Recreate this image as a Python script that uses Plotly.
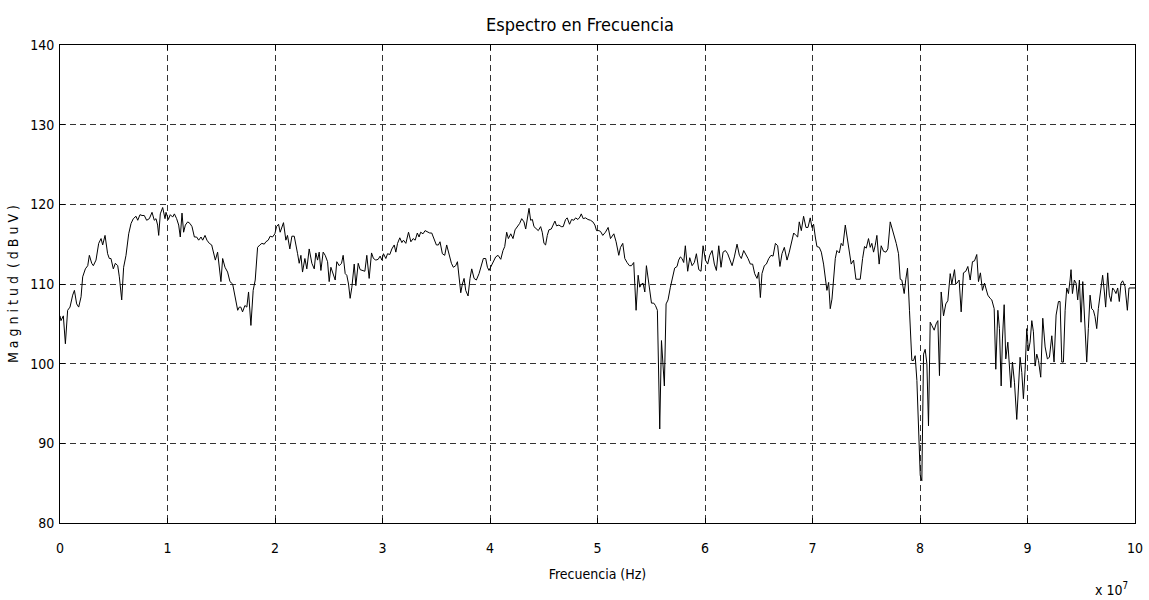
import plotly.graph_objects as go

# Frequency in units of 1e7 Hz, magnitude in dBuV
freq = [
 0.0, 0.009, 0.031, 0.050, 0.071, 0.093, 0.118, 0.134, 0.155, 0.174, 0.196, 0.211, 0.236, 0.258, 0.273, 0.295,
 0.310, 0.335, 0.360, 0.382, 0.397, 0.419, 0.443, 0.459, 0.474, 0.496, 0.515, 0.537, 0.552, 0.574, 0.592, 0.614,
 0.639, 0.661, 0.682, 0.707, 0.723, 0.744, 0.763, 0.784, 0.806, 0.831, 0.856, 0.877, 0.893, 0.908, 0.918, 0.933,
 0.955, 0.977, 0.986, 1.008, 1.026, 1.048, 1.064, 1.085, 1.104, 1.119, 1.135, 1.150, 1.166, 1.188, 1.209, 1.228,
 1.250, 1.271, 1.290, 1.312, 1.327, 1.349, 1.367, 1.389, 1.411, 1.426, 1.445, 1.466, 1.482, 1.497, 1.513, 1.535,
 1.559, 1.581, 1.606, 1.628, 1.653, 1.668,
 1.682, 1.698, 1.720, 1.738, 1.754, 1.776, 1.797, 1.816, 1.838, 1.859, 1.878, 1.900, 1.915, 1.937, 1.955, 1.977,
 1.999, 2.014, 2.033, 2.048, 2.064, 2.079, 2.101, 2.116, 2.138, 2.157, 2.179, 2.194, 2.210, 2.225, 2.241, 2.256,
 2.278, 2.296, 2.318, 2.343, 2.365, 2.380, 2.396, 2.411, 2.427, 2.448, 2.467, 2.489, 2.504, 2.520, 2.541, 2.560,
 2.575, 2.597, 2.619, 2.634, 2.653, 2.668, 2.684, 2.699, 2.715, 2.737, 2.752, 2.774, 2.792, 2.814, 2.836, 2.854,
 2.876, 2.898, 2.916, 2.938, 2.960, 2.978, 2.994, 3.009, 3.031, 3.047, 3.068, 3.087, 3.109, 3.124, 3.140, 3.161,
 3.180, 3.195, 3.217, 3.242, 3.264, 3.285, 3.304,
 3.324, 3.340, 3.355, 3.377, 3.396, 3.417, 3.439, 3.458, 3.480, 3.501, 3.520, 3.535, 3.557, 3.579, 3.597, 3.619,
 3.641, 3.659, 3.681, 3.697, 3.712, 3.728, 3.743, 3.759, 3.774, 3.796, 3.814, 3.830, 3.852, 3.873, 3.898, 3.920,
 3.938, 3.960, 3.976, 3.991, 4.007, 4.028, 4.053, 4.075, 4.100, 4.121, 4.137, 4.155, 4.171, 4.193, 4.214, 4.233,
 4.255, 4.276, 4.295, 4.316, 4.332, 4.347, 4.363, 4.378, 4.394, 4.409, 4.431, 4.449, 4.471, 4.486, 4.502, 4.517,
 4.533, 4.548, 4.570, 4.588, 4.604, 4.619, 4.641, 4.663, 4.681, 4.703, 4.718, 4.740, 4.759, 4.780, 4.796, 4.818,
 4.836, 4.849, 4.867, 4.889, 4.911, 4.935, 4.957, 4.976, 4.991, 5.013,
 5.028, 5.049, 5.074, 5.099, 5.121, 5.152, 5.173, 5.198, 5.214, 5.235, 5.254, 5.275, 5.297, 5.316, 5.337, 5.359,
 5.378, 5.393, 5.409, 5.424, 5.440, 5.455, 5.471, 5.486, 5.502, 5.523, 5.539, 5.557, 5.579, 5.595, 5.607, 5.622,
 5.638, 5.656, 5.678, 5.700, 5.718, 5.740, 5.755, 5.771, 5.786, 5.802, 5.817, 5.839, 5.858, 5.880, 5.901, 5.920,
 5.942, 5.963, 5.982, 6.004, 6.025, 6.044, 6.066, 6.087, 6.106, 6.128, 6.149, 6.168, 6.190, 6.211, 6.230, 6.252,
 6.273, 6.298, 6.320, 6.338, 6.360, 6.381, 6.400, 6.422, 6.443, 6.462, 6.484, 6.499, 6.515, 6.530, 6.552, 6.571,
 6.593, 6.614, 6.633, 6.655, 6.676, 6.697,
 6.716, 6.738, 6.763, 6.784, 6.803, 6.825, 6.846, 6.862, 6.877, 6.896, 6.917, 6.939, 6.958, 6.979, 6.995, 7.010,
 7.026, 7.041, 7.063, 7.082, 7.103, 7.119, 7.134, 7.150, 7.165, 7.181, 7.196, 7.212, 7.227, 7.249, 7.267, 7.283,
 7.305, 7.320, 7.342, 7.360, 7.382, 7.404, 7.422, 7.444, 7.466, 7.484, 7.500, 7.521, 7.537, 7.552, 7.568, 7.583,
 7.599, 7.620, 7.639, 7.661, 7.683, 7.701, 7.723, 7.738, 7.760, 7.779, 7.800, 7.816, 7.831, 7.853, 7.868, 7.884,
 7.902, 7.924, 7.940, 7.955, 7.971, 7.986, 8.002, 8.017, 8.033, 8.048, 8.064, 8.079, 8.095, 8.110, 8.132, 8.150,
 8.166, 8.181, 8.197, 8.219, 8.240, 8.259, 8.281, 8.296, 8.321, 8.333,
 8.343, 8.364, 8.383, 8.404, 8.426, 8.445, 8.467, 8.488, 8.507, 8.528, 8.544, 8.562, 8.581, 8.600, 8.615, 8.631,
 8.652, 8.668, 8.690, 8.705, 8.724, 8.739, 8.755, 8.767, 8.783, 8.798, 8.817, 8.832, 8.845, 8.860, 8.879, 8.900,
 8.916, 8.931, 8.947, 8.962, 8.978, 8.993, 9.009, 9.024, 9.040, 9.055, 9.071, 9.086, 9.102, 9.123, 9.142, 9.164,
 9.185, 9.204, 9.226, 9.247, 9.266, 9.288, 9.303, 9.319, 9.334, 9.350, 9.365, 9.381, 9.396, 9.405, 9.418, 9.436,
 9.452, 9.467, 9.483, 9.498, 9.514, 9.535, 9.551, 9.566, 9.582, 9.597, 9.613, 9.628, 9.644, 9.659, 9.681, 9.699,
 9.715, 9.727, 9.746, 9.761, 9.777, 9.792, 9.808, 9.823, 9.839, 9.854, 9.870, 9.885, 9.907, 9.929, 9.944, 9.963,
 9.984, 10.0,
]

magnitude = [
 106.0, 105.4, 106.0, 102.5, 106.7, 107.1, 108.6, 109.2, 107.5, 107.1, 108.4, 110.9, 111.9, 112.3, 113.6, 112.6,
 112.3, 113.0, 115.1, 115.7, 114.9, 116.1, 113.8, 113.2, 113.2, 111.9, 112.6, 112.3, 110.9, 108.0, 112.1, 113.6,
 116.3, 117.6, 118.2, 118.5, 118.0, 118.7, 118.6, 118.6, 118.0, 118.2, 119.0, 118.0, 118.2, 117.4, 116.1, 118.8,
 119.6, 118.2, 119.0, 118.1, 118.7, 118.4, 118.8, 118.2, 117.4, 115.9, 118.9, 116.5, 117.4, 117.8, 117.6, 117.2,
 115.9, 115.9, 115.5, 115.9, 115.5, 116.1, 115.5, 115.1, 114.9, 114.0, 113.0, 114.0, 112.1, 110.3, 113.2, 112.1,
 111.5, 110.3, 110.0, 108.6, 106.7, 107.1,
 107.1, 106.5, 107.3, 107.1, 109.0, 104.8, 109.2, 110.5, 114.6, 114.9, 115.1, 115.0, 115.3, 115.5, 116.0, 115.9,
 116.3, 117.2, 117.5, 116.5, 117.2, 117.7, 115.5, 116.1, 114.4, 116.0, 116.0, 115.1, 113.8, 112.6, 113.6, 111.5,
 113.2, 111.9, 114.4, 112.6, 111.9, 113.9, 113.0, 114.0, 111.7, 114.0, 113.6, 112.8, 110.3, 112.1, 111.3, 110.5,
 112.8, 112.3, 112.6, 113.6, 111.3, 111.1, 110.0, 108.2, 109.6, 112.5, 109.8, 112.6, 111.8, 111.7, 111.6, 113.6,
 110.7, 113.9, 113.2, 113.0, 113.1, 113.5, 113.0, 113.8, 113.2, 113.8, 113.7, 114.4, 114.9, 114.0, 115.1, 115.8,
 115.2, 115.5, 115.1, 116.5, 115.3, 115.7, 115.5,
 116.4, 115.9, 116.5, 116.3, 116.7, 116.5, 116.4, 116.4, 115.7, 114.9, 114.9, 115.3, 113.8, 113.6, 114.9, 113.8,
 112.6, 112.1, 112.3, 112.8, 110.9, 108.9, 110.0, 110.7, 109.2, 108.5, 110.7, 111.9, 110.7, 110.5, 111.3, 112.3,
 113.2, 113.2, 112.1, 111.7, 112.1, 112.8, 113.4, 113.6, 113.1, 114.2, 114.7, 116.5, 115.7, 116.3, 115.7, 116.8,
 117.2, 117.6, 118.2, 117.8, 116.9, 118.4, 119.5, 118.0, 118.1, 117.2, 116.9, 116.7, 117.2, 116.5, 115.1, 114.9,
 116.1, 116.8, 116.9, 117.4, 117.9, 117.3, 117.4, 117.2, 117.2, 118.1, 118.3, 117.5, 118.1, 118.0, 118.3, 118.1,
 118.4, 118.8, 118.2, 118.3, 118.1, 118.0, 117.8, 117.4, 116.7, 116.7,
 116.6, 116.1, 116.5, 117.1, 115.7, 116.3, 115.3, 113.6, 114.6, 115.1, 113.2, 112.7, 112.3, 112.3, 112.7, 106.7,
 111.1, 109.6, 110.0, 110.1, 109.0, 112.3, 110.5, 109.2, 107.6, 107.6, 107.3, 106.7, 91.8, 102.9, 100.4, 97.2,
 107.5, 108.0, 109.6, 110.9, 112.0, 112.2, 113.0, 113.4, 113.2, 112.7, 114.8, 111.6, 113.3, 112.3, 112.7, 113.8,
 111.8, 111.6, 114.8, 113.0, 112.5, 113.6, 114.2, 112.5, 111.7, 114.8, 112.1, 114.0, 114.2, 113.8, 113.2, 112.3,
 113.4, 115.0, 113.6, 113.2, 114.2, 113.7, 113.2, 112.5, 112.5, 111.3, 110.7, 111.5, 108.3, 111.3, 112.3, 112.5,
 113.2, 113.6, 113.5, 115.1, 114.8, 112.2,
 113.8, 114.6, 113.0, 114.0, 115.3, 116.4, 116.1, 115.9, 117.8, 116.7, 118.5, 117.1, 117.1, 118.3, 117.1, 117.5,
 115.9, 114.7, 114.6, 114.0, 112.5, 110.4, 109.2, 110.2, 106.9, 108.1, 110.9, 113.2, 114.2, 113.9, 115.1, 114.8,
 117.4, 116.1, 114.6, 112.5, 113.0, 110.6, 110.6, 110.6, 113.2, 114.7, 114.5, 115.7, 114.6, 115.1, 114.0, 114.8,
 116.1, 112.5, 114.8, 114.1, 114.0, 114.4, 117.8, 117.1, 115.9, 115.1, 113.8, 110.6, 110.5, 108.8, 110.6, 112.0,
 106.7, 100.4, 100.4, 101.0, 97.9, 92.4, 86.0, 85.3, 101.2, 101.8, 100.0, 92.2, 105.2, 104.8, 104.2, 105.0,
 105.4, 98.5, 109.0, 106.0, 107.5, 107.9, 111.3, 110.0, 111.8, 110.0,
 110.1, 110.5, 106.5, 111.4, 111.6, 112.2, 110.5, 112.8, 112.9, 113.7, 110.3, 111.4, 109.2, 110.1, 109.2, 108.6,
 108.2, 108.0, 106.9, 99.3, 106.7, 104.4, 97.2, 103.1, 107.4, 100.6, 102.7, 99.5, 97.0, 100.2, 97.6, 93.0,
 98.1, 100.8, 98.9, 95.6, 99.3, 104.4, 101.6, 102.7, 105.4, 104.0, 99.7, 101.2, 100.4, 98.3, 105.7, 102.1,
 100.6, 100.8, 103.5, 100.2, 106.1, 107.8, 107.8, 100.2, 100.2, 106.7, 109.5, 108.8, 110.5, 111.8, 108.8, 110.5,
 110.1, 108.0, 110.5, 105.2, 110.3, 104.4, 100.2, 104.4, 108.6, 106.9, 106.7, 105.9, 104.4, 106.9, 109.7, 111.1,
 109.0, 107.1, 111.4, 108.6, 107.8, 109.5, 109.2, 108.8, 109.5, 107.8, 110.1, 110.4, 109.7, 106.7, 109.5, 109.5,
 109.5, 109.5,
]

x_ticks = [0, 1, 2, 3, 4, 5, 6, 7, 8, 9, 10]
y_ticks = [80, 90, 100, 110, 120, 130, 140]

FONT = "DejaVu Sans Condensed, Liberation Sans Narrow, Arial Narrow, Liberation Sans, sans-serif"

fig = go.Figure()
fig.add_trace(go.Scatter(x=freq, y=magnitude, mode="lines",
                         line=dict(color="black", width=1), hoverinfo="x+y"))

axis_common = dict(
    showline=True, linecolor="black", linewidth=1, mirror="ticks",
    ticks="inside", ticklen=5, tickcolor="black", tickwidth=1,
    showgrid=True, gridcolor="#333333", gridwidth=1, griddash="6px,4px",
    zeroline=False, automargin=False,
    tickfont=dict(family=FONT, size=14, color="black"),
)

fig.update_xaxes(range=[0, 10], tickvals=x_ticks, ticktext=[str(v) for v in x_ticks],
                 ticklabelstandoff=12,
                 title=dict(text="Frecuencia (Hz)", font=dict(family=FONT, size=14, color="black"), standoff=14),
                 **axis_common)
fig.update_yaxes(range=[80, 140], tickvals=y_ticks, ticktext=[str(v) for v in y_ticks],
                 ticklabelstandoff=2,
                 title=dict(text="M a g n i t u d  ( d B u V )", font=dict(family=FONT, size=14, color="black"), standoff=8),
                 **axis_common)

fig.add_annotation(text="Espectro en Frecuencia", xref="paper", yref="paper", x=0.484, y=1.0,
                   yshift=8, xanchor="center", yanchor="bottom", showarrow=False,
                   font=dict(family=FONT, size=18, color="black"))
fig.add_annotation(text="x 10<sup>7</sup>", xref="paper", yref="paper", x=0.995, y=-0.115,
                   xanchor="right", yanchor="top", showarrow=False,
                   font=dict(family=FONT, size=14, color="black"))

fig.update_layout(
    width=1149, height=600,
    margin=dict(l=60, r=14, t=45, b=77),
    paper_bgcolor="white", plot_bgcolor="white",
    showlegend=False,
    font=dict(family=FONT, color="black"),
)

fig.write_html("out.html")
